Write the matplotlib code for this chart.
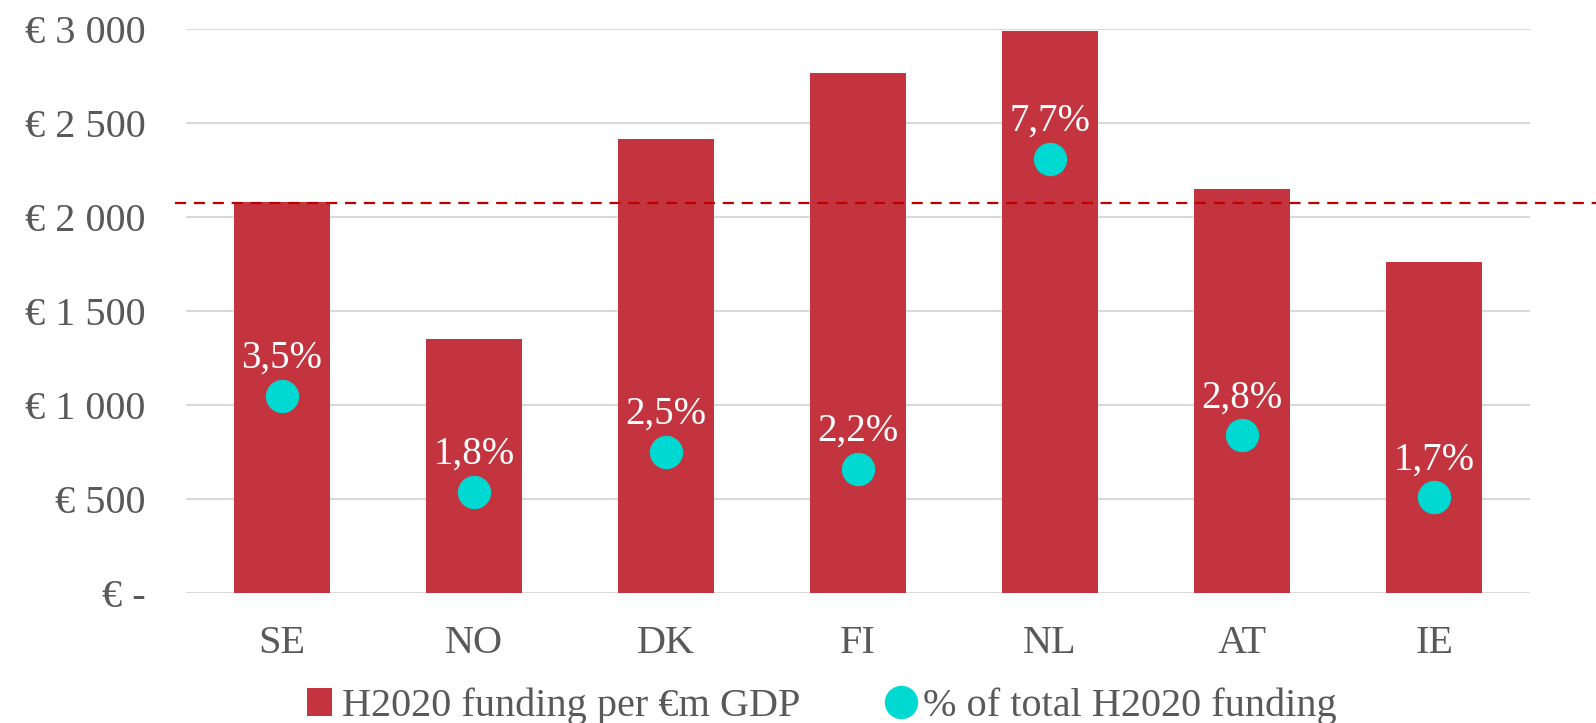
import numpy as np
import matplotlib.pyplot as plt
from matplotlib.patches import Patch
from matplotlib.lines import Line2D

plt.rcParams['font.family'] = ['Liberation Serif', 'DejaVu Serif']

# data
countries = ['SE', 'NO', 'DK', 'FI', 'NL', 'AT', 'IE']
funding_per_gdp = [2080, 1354, 2416, 2768, 2990, 2150, 1760]
share_pct = [3.5, 1.8, 2.5, 2.2, 7.7, 2.8, 1.7]
share_labels = ['3,5%', '1,8%', '2,5%', '2,2%', '7,7%', '2,8%', '1,7%']
average_line = 2075
ytick_vals = [0, 500, 1000, 1500, 2000, 2500, 3000]
ytick_labels = ['€ -', '€ 500', '€ 1 000', '€ 1 500', '€ 2 000', '€ 2 500', '€ 3 000']

bar_col = '#C3343F'
dot_col = '#00D8D2'
txt_col = '#595959'
fs = 29

fig = plt.figure(figsize=(15.96, 7.23), dpi=100)
ax = fig.add_axes([0.1165, 0.1798, 0.8422, 0.7794])

x = np.arange(len(countries))
ax.bar(x, funding_per_gdp, width=0.5, color=bar_col, zorder=2)
ax.set_xlim(-0.5, len(countries) - 0.5)
ax.set_ylim(0, 3000)
ax.set_yticks(ytick_vals)
ax.set_yticklabels(ytick_labels)
ax.set_xticks(x)
ax.set_xticklabels(countries)
ax.grid(axis='y', color='#D9D9D9', linewidth=1.5, zorder=0)
for s in ax.spines.values():
    s.set_visible(False)
ax.tick_params(axis='y', length=0, pad=29, labelsize=fs, labelcolor=txt_col)
ax.tick_params(axis='x', length=0, pad=23, labelsize=fs, labelcolor=txt_col)

# dashed average line, runs past the plot on both sides
ax.plot([-0.008, 1.05], [average_line, average_line], transform=ax.get_yaxis_transform(),
        color='#C00000', linestyle=(0, (5, 3.5)), linewidth=1.6, clip_on=False, zorder=3)

# secondary axis for the share dots
ax2 = ax.twinx()
ax2.set_ylim(0, 10)
ax2.axis('off')
ax2.plot(x, share_pct, linestyle='none', marker='o', markersize=23,
         color=dot_col, zorder=4)
for xi, v, lab in zip(x, share_pct, share_labels):
    ax2.annotate(lab, (xi, v), xytext=(0, 27), textcoords='offset points',
                 ha='center', va='center', color='white', fontsize=28)

handles = [Patch(facecolor=bar_col, edgecolor='none'),
           Line2D([], [], linestyle='none', marker='o', markersize=23, color=dot_col)]
fig.legend(handles, ['H2020 funding per €m GDP', '% of total H2020 funding'],
           loc='lower center', bbox_to_anchor=(0.515, -0.053), ncol=2, frameon=False,
           fontsize=fs, labelcolor=txt_col, handlelength=0.6, handletextpad=0.25,
           columnspacing=2.2)

fig.savefig('out.png', dpi=100)
